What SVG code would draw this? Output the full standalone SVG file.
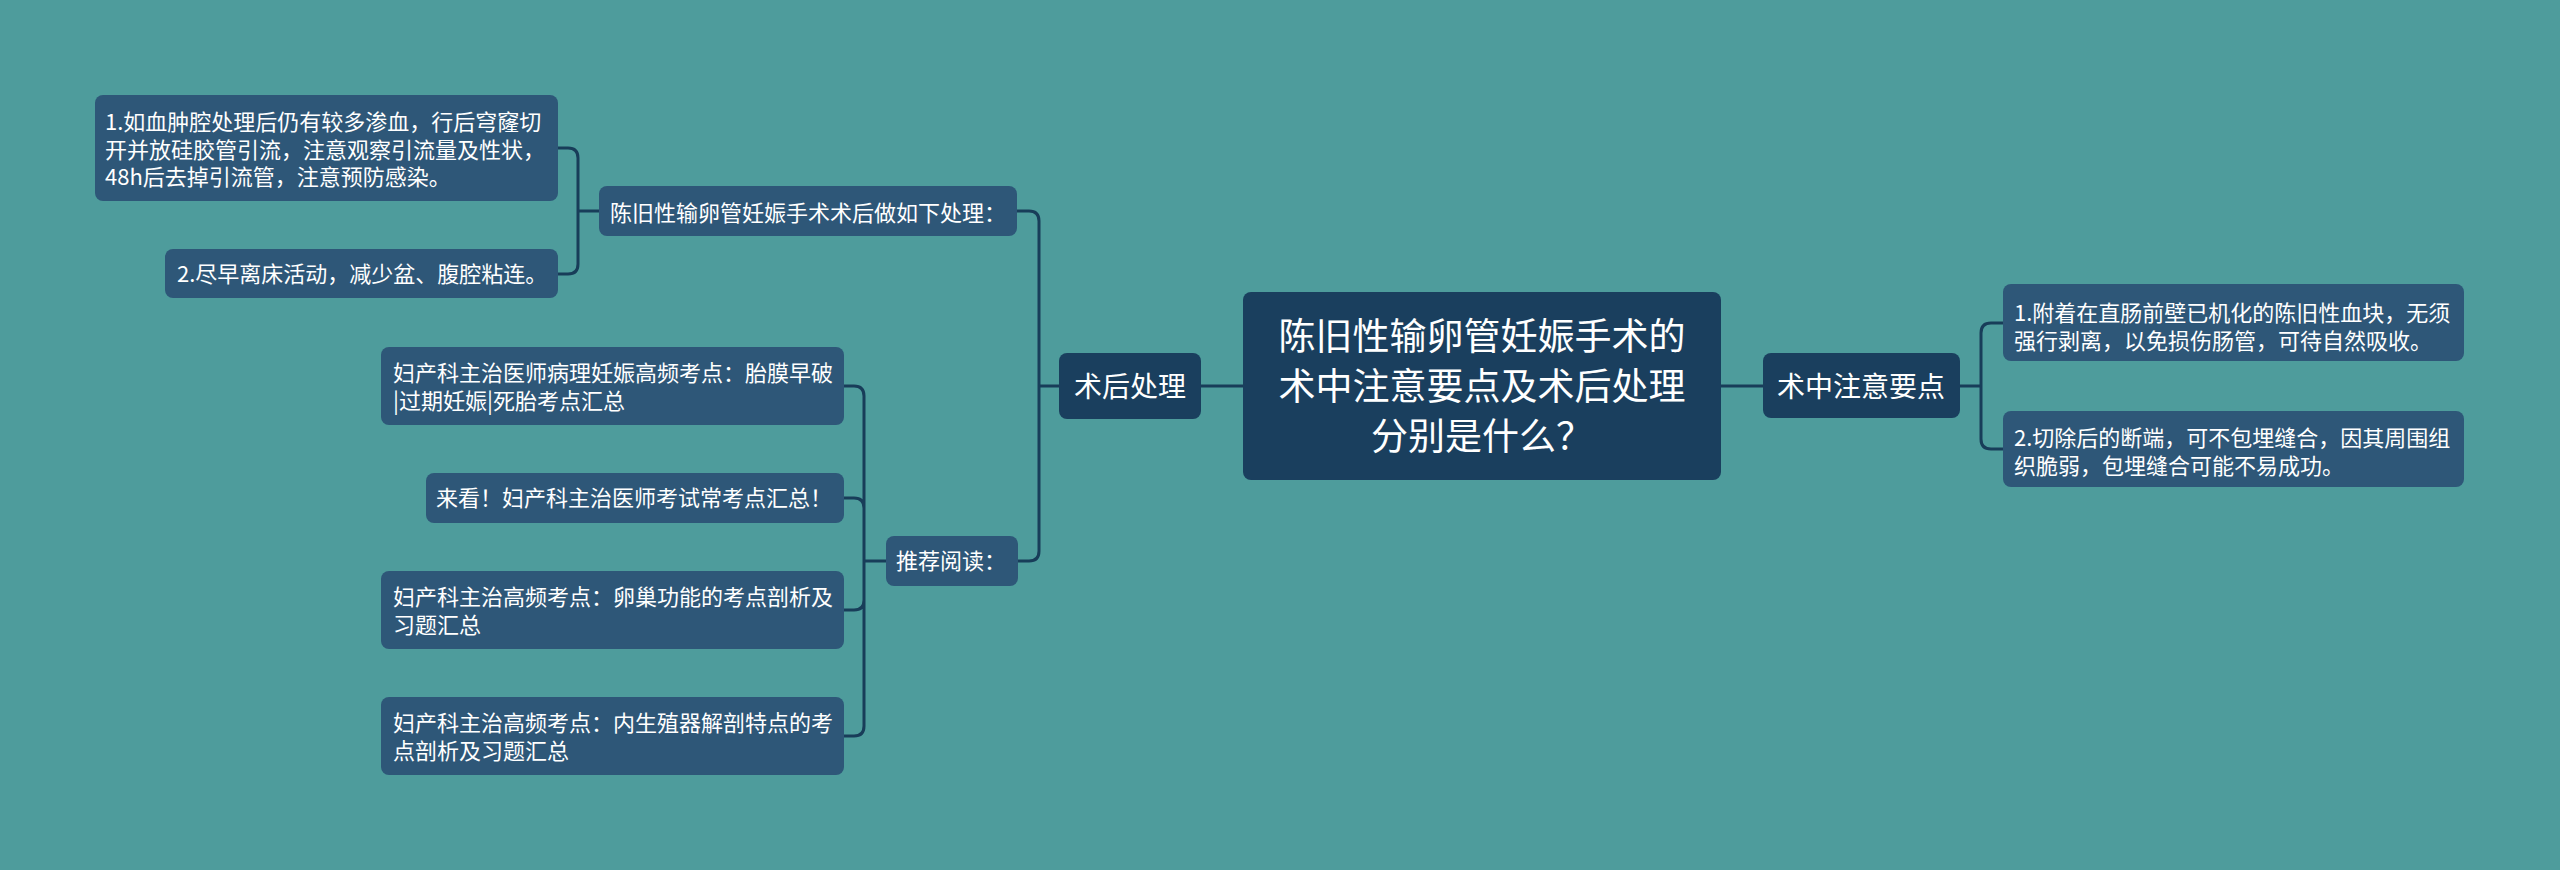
<svg xmlns="http://www.w3.org/2000/svg" width="2560" height="870" viewBox="0 0 2560 870">
<style>
.bg{fill:#4e9c9c}
.root{fill:#1a3f5e}
.main{fill:#1a3f5e}
.leaf{fill:#2e5778}
.t{font-family:"Noto Sans CJK SC","Noto Sans",sans-serif;fill:#ffffff}
.tl{font-size:22px}
.tm{font-size:28px;text-anchor:middle}
.tr{font-size:37px;text-anchor:middle}
.c{fill:none;stroke:#183d59;stroke-width:3}
</style>
<rect class="bg" x="0" y="0" width="2560" height="870"/>
<g id="connectors">
<path class="c" d="M1201 386 H1243"/>
<path class="c" d="M1721 386 H1763"/>
<path class="c" d="M1059 386 H1039 M1039 386 V221 Q1039 211 1029 211 H1017 M1039 386 V551 Q1039 561 1029 561 H1018"/>
<path class="c" d="M599 211 H578 M578 211 V158 Q578 148 568 148 H557 M578 211 V264 Q578 274 568 274 H557"/>
<path class="c" d="M886 561 H864 M864 561 V396 Q864 386 854 386 H844 M864 561 V508 Q864 498 854 498 H844 M864 561 V600 Q864 610 854 610 H844 M864 561 V726 Q864 736 854 736 H844"/>
<path class="c" d="M1960 386 H1981 M1981 386 V333 Q1981 323 1991 323 H2003 M1981 386 V439 Q1981 449 1991 449 H2003"/>
</g>
<g id="root">
<rect class="root" x="1243" y="292" width="478" height="188" rx="8"/>
<text class="t tr" x="1482" y="350">陈旧性输卵管妊娠手术的</text>
<text class="t tr" x="1482" y="400">术中注意要点及术后处理</text>
<text class="t tr" x="1482" y="450">分别是什么？</text>
</g>
<g id="postop">
<rect class="main" x="1059" y="353" width="142" height="66" rx="8"/>
<text class="t tm" x="1130" y="397">术后处理</text>
</g>
<g id="intraop">
<rect class="main" x="1763" y="353" width="197" height="65" rx="8"/>
<text class="t tm" x="1861" y="397">术中注意要点</text>
</g>
<g id="postop-steps">
<rect class="leaf" x="599" y="186" width="418" height="50" rx="8"/>
<text class="t tl" x="610" y="221">陈旧性输卵管妊娠手术术后做如下处理：</text>
</g>
<g id="step1">
<rect class="leaf" x="95" y="95" width="463" height="106" rx="8"/>
<text class="t tl" x="105" y="130">1.如血肿腔处理后仍有较多渗血，行后穹窿切</text>
<text class="t tl" x="105" y="158">开并放硅胶管引流，注意观察引流量及性状，</text>
<text class="t tl" x="105" y="185">48h后去掉引流管，注意预防感染。</text>
</g>
<g id="step2">
<rect class="leaf" x="165" y="249" width="393" height="49" rx="8"/>
<text class="t tl" x="177" y="282">2.尽早离床活动，减少盆、腹腔粘连。</text>
</g>
<g id="reading">
<rect class="leaf" x="886" y="536" width="132" height="50" rx="8"/>
<text class="t tl" x="896" y="569">推荐阅读：</text>
</g>
<g id="read1">
<rect class="leaf" x="381" y="347" width="463" height="78" rx="8"/>
<text class="t tl" x="393" y="381">妇产科主治医师病理妊娠高频考点：胎膜早破</text>
<text class="t tl" x="393" y="409">|过期妊娠|死胎考点汇总</text>
</g>
<g id="read2">
<rect class="leaf" x="426" y="473" width="418" height="50" rx="8"/>
<text class="t tl" x="436" y="506">来看！妇产科主治医师考试常考点汇总！</text>
</g>
<g id="read3">
<rect class="leaf" x="381" y="571" width="463" height="78" rx="8"/>
<text class="t tl" x="393" y="605">妇产科主治高频考点：卵巢功能的考点剖析及</text>
<text class="t tl" x="393" y="633">习题汇总</text>
</g>
<g id="read4">
<rect class="leaf" x="381" y="697" width="463" height="78" rx="8"/>
<text class="t tl" x="393" y="731">妇产科主治高频考点：内生殖器解剖特点的考</text>
<text class="t tl" x="393" y="759">点剖析及习题汇总</text>
</g>
<g id="intra1">
<rect class="leaf" x="2003" y="284" width="461" height="77" rx="8"/>
<text class="t tl" x="2014" y="321">1.附着在直肠前壁已机化的陈旧性血块，无须</text>
<text class="t tl" x="2014" y="349">强行剥离，以免损伤肠管，可待自然吸收。</text>
</g>
<g id="intra2">
<rect class="leaf" x="2003" y="411" width="461" height="76" rx="8"/>
<text class="t tl" x="2014" y="446">2.切除后的断端，可不包埋缝合，因其周围组</text>
<text class="t tl" x="2014" y="474">织脆弱，包埋缝合可能不易成功。</text>
</g>
</svg>
